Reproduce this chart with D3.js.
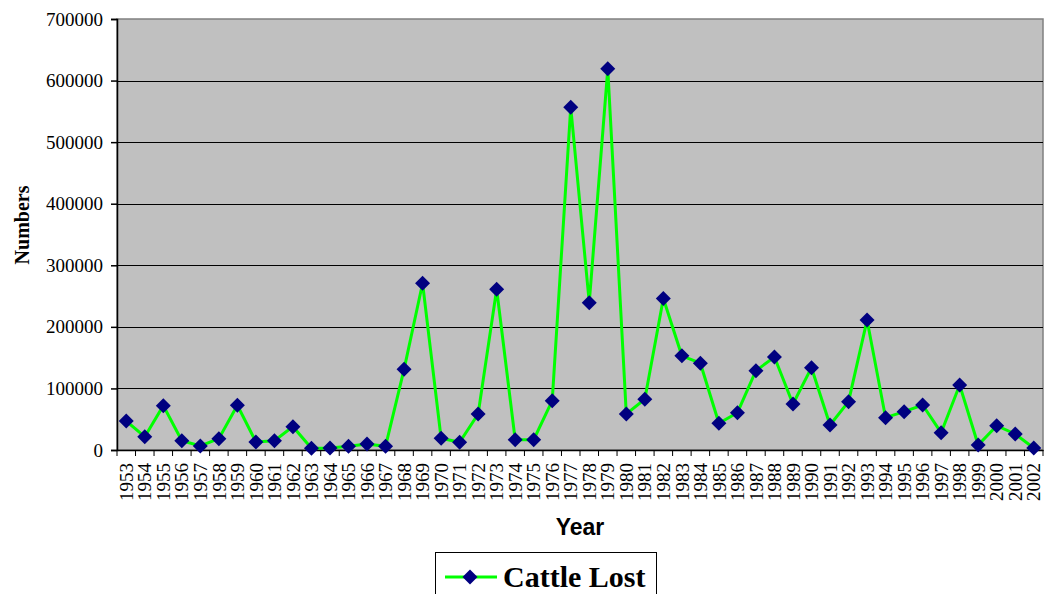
<!DOCTYPE html>
<html><head><meta charset="utf-8">
<script src="https://cdn.jsdelivr.net/npm/d3@7"></script>
<style>body{margin:0;background:#fff}svg{display:block}</style>
</head><body>
<script>
const years = d3.range(1953, 2003).map(String);
const cattleLost = [47000,21600,72000,15100,6500,18400,72600,13000,15100,37900,
  2800,3200,6000,9700,6000,131000,270800,19000,12500,58500,
  261000,16700,16700,80100,556800,239300,619000,58500,82400,246000,
  153000,141000,43400,60600,128800,151000,74700,133700,40600,78500,
  211000,52500,62200,73100,28100,105600,8100,39500,26000,3200];
const yTicks = [0,100000,200000,300000,400000,500000,600000,700000];
const seriesName = "Cattle Lost";

const W = 1045, H = 594;
const m = {l:117, r:1043, t:19, b:450};
const svg = d3.select("body").append("svg").attr("width", W).attr("height", H);

const x = d3.scaleBand().domain(years).range([m.l, m.r]);
const y = d3.scaleLinear().domain([0, 700000]).range([m.b, m.t]);

svg.append("rect").attr("x", m.l).attr("y", m.t).attr("width", m.r - m.l).attr("height", m.b - m.t)
  .attr("fill", "#c0c0c0").attr("stroke", "#808080").attr("stroke-width", 1.5);

svg.append("g").selectAll("line").data(yTicks.filter(d => d > 0 && d < 700000)).join("line")
  .attr("x1", m.l).attr("x2", m.r).attr("y1", d => Math.round(y(d)) + 0.5).attr("y2", d => Math.round(y(d)) + 0.5)
  .attr("stroke", "#000").attr("stroke-width", 1);

// y axis
const ya = svg.append("g").attr("transform", `translate(${m.l},0)`)
  .call(d3.axisLeft(y).tickValues(yTicks).tickSize(6).tickPadding(8).tickFormat(d3.format("d")));
ya.selectAll("text").attr("font-family", "Liberation Serif, Times New Roman, serif").attr("font-size", 19).attr("fill", "#000");
ya.selectAll("line,path").attr("stroke", "#000").attr("stroke-width", 1.5);

// x axis
const xa = svg.append("g").attr("transform", `translate(0,${m.b})`)
  .call(d3.axisBottom(x).tickSize(0).tickPadding(0));
xa.select("path").attr("stroke", "#000").attr("stroke-width", 1.5);
xa.selectAll("text")
  .attr("font-family", "Liberation Serif, Times New Roman, serif").attr("font-size", 19).attr("fill", "#000")
  .attr("transform", "rotate(-90)").attr("text-anchor", "end").attr("dy", "0.35em").attr("x", -13).attr("y", 0);
svg.append("g").selectAll("line").data(years.concat(["end"])).join("line")
  .attr("x1", (d, i) => m.l + i * x.step()).attr("x2", (d, i) => m.l + i * x.step())
  .attr("y1", m.b).attr("y2", m.b + 6).attr("stroke", "#000").attr("stroke-width", 1);

// line
const cx = d => x(d) + x.bandwidth() / 2;
svg.append("path").datum(cattleLost)
  .attr("d", d3.line().x((d, i) => cx(years[i])).y(d => y(d)))
  .attr("fill", "none").attr("stroke", "#00ff00").attr("stroke-width", 3);

const diamond = "M0,-7.5L7.5,0L0,7.5L-7.5,0Z";
svg.append("g").selectAll("path").data(cattleLost).join("path")
  .attr("d", diamond).attr("transform", (d, i) => `translate(${cx(years[i])},${y(d)})`)
  .attr("fill", "#000080");

// titles
svg.append("text").attr("x", 580).attr("y", 535).attr("text-anchor", "middle")
  .attr("font-family", "Liberation Sans, Arial, sans-serif").attr("font-weight", "bold").attr("font-size", 23)
  .text("Year");
svg.append("text").attr("transform", "translate(29,225) rotate(-90)").attr("text-anchor", "middle")
  .attr("font-family", "Liberation Serif, Times New Roman, serif").attr("font-weight", "bold").attr("font-size", 20)
  .text("Numbers");

// legend
const lg = svg.append("g");
lg.append("rect").attr("x", 435.5).attr("y", 552.5).attr("width", 221).attr("height", 60)
  .attr("fill", "#fff").attr("stroke", "#000").attr("stroke-width", 1);
lg.append("line").attr("x1", 445).attr("x2", 497).attr("y1", 577).attr("y2", 577)
  .attr("stroke", "#00ff00").attr("stroke-width", 3);
lg.append("path").attr("d", diamond).attr("transform", "translate(470,577)").attr("fill", "#000080");
lg.append("text").attr("x", 503).attr("y", 587)
  .attr("font-family", "Liberation Serif, Times New Roman, serif").attr("font-weight", "bold").attr("font-size", 30)
  .text(seriesName);
</script>
</body></html>
